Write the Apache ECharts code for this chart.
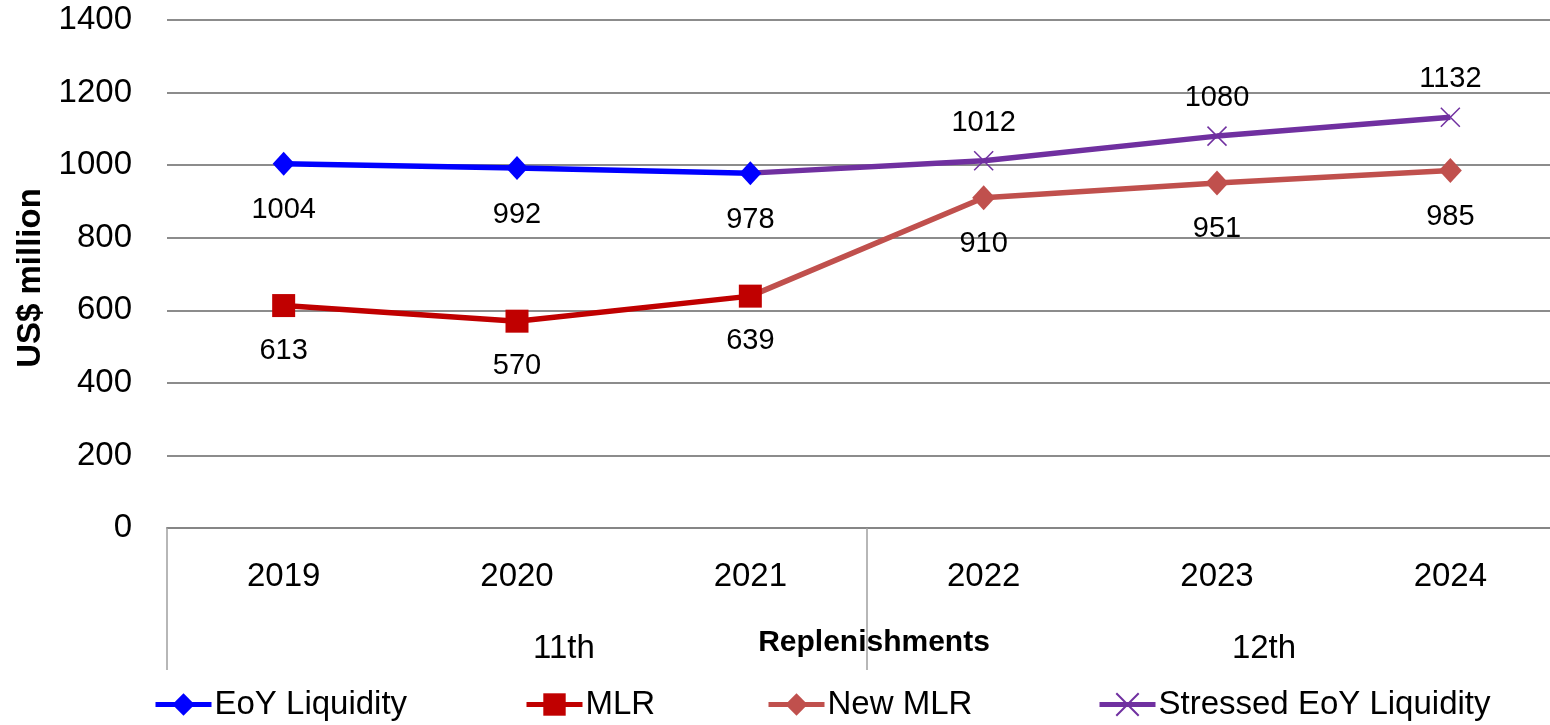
<!DOCTYPE html>
<html>
<head>
<meta charset="utf-8">
<script src="https://cdn.jsdelivr.net/npm/echarts@6/dist/echarts.min.js"></script>
<style>
  html, body { margin: 0; padding: 0; background: #fff; overflow: hidden; }
  /* plot runs a little past the right edge of the window, like the original */
  #chart { width: 1567px; height: 725px; }
</style>
</head>
<body>
<div id="chart"></div>
<script>
const years = ['2019', '2020', '2021', '2022', '2023', '2024']
const groups = ['11th', '12th']
const seriesNames = ['EoY Liquidity', 'MLR', 'New MLR', 'Stressed EoY Liquidity']
const eoyLiquidity = [1004, 992, 978, null, null, null]
const mlr = [613, 570, 639, null, null, null]
const newMlr = [null, null, 639, 910, 951, 985]
const stressedLiquidity = [null, null, 978, 1012, 1080, 1132]

const font = "'Liberation Sans', Arial, sans-serif"
const chart = echarts.init(document.getElementById('chart'))

// first point of the follow-on series is only the joint, no marker or label
function joined (arr) {
  const first = arr.findIndex((v) => v !== null)
  return arr.map((v, i) => (i === first ? { value: v, symbol: 'none', label: { show: false } } : v))
}

const labelStyle = { show: true, fontFamily: font, fontSize: 29, color: '#000' }

// one legend per entry so each sits where the original put it
const legendLeft = [153, 524, 766, 1097]
const legends = seriesNames.map((name, i) => ({
  left: legendLeft[i],
  bottom: 4,
  padding: 0,
  itemWidth: 56,
  itemHeight: 28,
  lineStyle: { width: 5 },
  textStyle: { fontFamily: font, fontSize: 33, color: '#000', padding: [0, 0, 0, -2] },
  data: [name]
}))

const option = {
  animation: false,
  textStyle: { fontFamily: font },
  grid: { left: 167, right: 0, top: 20, bottom: 197 },
  legend: legends,
  xAxis: [
    {
      type: 'category',
      data: years,
      boundaryGap: true,
      axisLine: { lineStyle: { color: '#868686', width: 2 } },
      axisTick: { show: false },
      axisLabel: { fontFamily: font, fontSize: 33, color: '#000', margin: 32 },
      name: 'Replenishments',
      nameLocation: 'middle',
      nameGap: 100,
      nameTextStyle: { fontFamily: font, fontSize: 30, fontWeight: 'bold', color: '#000', padding: [0, 0, 0, 14] }
    },
    {
      type: 'category',
      data: groups,
      position: 'bottom',
      boundaryGap: true,
      axisLine: { show: false },
      axisTick: { show: true, length: 142, lineStyle: { color: '#a0a0a0', width: 1.5 } },
      axisLabel: { fontFamily: font, fontSize: 33, color: '#000', margin: 104, padding: [0, 0, 0, 94] }
    }
  ],
  yAxis: {
    type: 'value',
    min: 0,
    max: 1400,
    interval: 200,
    axisLine: { show: false },
    axisTick: { show: false },
    splitLine: { lineStyle: { color: '#8c8c8c', width: 2 } },
    axisLabel: { fontFamily: font, fontSize: 33, color: '#000', margin: 35, formatter: (v) => String(v) },
    name: 'US$ million',
    nameLocation: 'middle',
    nameGap: 114,
    nameTextStyle: { fontFamily: font, fontSize: 33, fontWeight: 'bold', color: '#000', padding: [0, 8, 0, 0] }
  },
  series: [
    {
      name: 'EoY Liquidity',
      type: 'line',
      data: eoyLiquidity,
      symbol: 'diamond',
      symbolSize: [22, 24],
      lineStyle: { color: '#0000FF', width: 5.5 },
      itemStyle: { color: '#0000FF' },
      label: { ...labelStyle, position: 'bottom', distance: 20 }
    },
    {
      name: 'MLR',
      type: 'line',
      data: mlr,
      symbol: 'rect',
      symbolSize: 23,
      lineStyle: { color: '#C00000', width: 5.5 },
      itemStyle: { color: '#C00000' },
      label: { ...labelStyle, position: 'bottom', distance: 19 }
    },
    {
      name: 'New MLR',
      type: 'line',
      data: joined(newMlr),
      symbol: 'diamond',
      symbolSize: [23, 25],
      lineStyle: { color: '#C0504D', width: 5.5 },
      itemStyle: { color: '#C0504D' },
      label: { ...labelStyle, position: 'bottom', distance: 19 }
    },
    {
      name: 'Stressed EoY Liquidity',
      type: 'line',
      data: joined(stressedLiquidity),
      symbol: 'path://M0,0L10,10M10,0L0,10',
      symbolSize: 19,
      lineStyle: { color: '#7030A0', width: 5.5 },
      itemStyle: { color: '#7030A0', borderColor: '#7030A0', borderWidth: 1.5 },
      label: { ...labelStyle, position: 'top', distance: 13 }
    }
  ]
}

chart.setOption(option)
</script>
</body>
</html>
